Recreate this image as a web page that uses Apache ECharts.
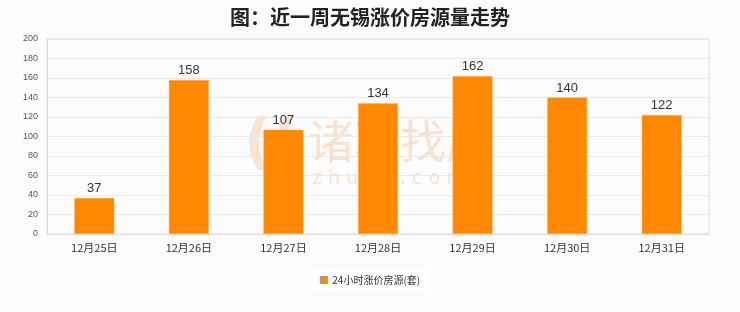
<!DOCTYPE html>
<html><head><meta charset="utf-8">
<script src="https://cdn.jsdelivr.net/npm/echarts@6/dist/echarts.min.js"></script>
<style>html,body{margin:0;padding:0;background:#fcfcfc;}#c{width:740px;height:312px;}</style>
</head><body><div id="c"></div>
<script>
const categories = ['12月25日','12月26日','12月27日','12月28日','12月29日','12月30日','12月31日'];
const values = [37,158,107,134,162,140,122];
const seriesName = '24小时涨价房源(套)';
const titleText = '图：近一周无锡涨价房源量走势';

const chart = echarts.init(document.getElementById('c'));
chart.setOption({
  backgroundColor: '#fcfcfc',
  animation: false,
  title: {
    text: titleText, left: 'center', top: 2,
    textStyle: {fontFamily: 'Noto Sans CJK SC', fontSize: 20, fontWeight: 'bold', color: '#222'}
  },
  graphic: [
    {type: 'text', z: 0, left: 308, top: 118, style: {text: '诸葛找房', fontFamily: 'Noto Sans CJK SC', fontSize: 46, fill: 'rgba(245,170,110,0.33)'}},
    {type: 'text', z: 0, left: 312, top: 170, style: {text: 'z h u g e . c o m', fontFamily: 'DejaVu Sans', fontSize: 19, fill: 'rgba(245,170,110,0.33)'}},
    {type: 'text', z: 0, left: 244, top: 116, style: {text: '((', fontFamily: 'DejaVu Sans', fontSize: 60, fontWeight: 'bold', fill: 'rgba(245,170,110,0.3)'}}
  ],
  grid: {left: 47, right: 31, top: 39, bottom: 78, show: true, borderColor: '#ddd', borderWidth: 1},
  legend: {
    bottom: 22, left: 'center', itemWidth: 7, itemHeight: 7, icon: 'rect',
    backgroundColor: '#fff', padding: [5, 8],
    textStyle: {fontSize: 10, color: '#333', fontFamily: 'Noto Sans CJK SC'},
    data: [{name: seriesName, itemStyle: {borderColor: '#999', borderWidth: 1}}]
  },
  xAxis: {
    type: 'category', data: categories,
    axisLine: {lineStyle: {color: '#ddd'}}, axisTick: {show: false},
    axisLabel: {fontSize: 11, color: '#333', margin: 8, fontFamily: 'Noto Sans CJK SC'}
  },
  yAxis: {
    type: 'value', min: 0, max: 200, interval: 20,
    axisLine: {show: true, lineStyle: {color: '#ddd'}}, axisTick: {show: false},
    axisLabel: {fontSize: 9, color: '#555', margin: 9},
    splitLine: {lineStyle: {color: '#e8e8e8'}}
  },
  series: [{
    name: seriesName, type: 'bar', data: values, barWidth: 40, z: 5,
    itemStyle: {color: '#FF8800', borderColor: '#FFB366', borderWidth: 0.5},
    label: {show: true, position: 'top', fontSize: 13, color: '#333', distance: 3}
  }]
});
</script></body></html>
